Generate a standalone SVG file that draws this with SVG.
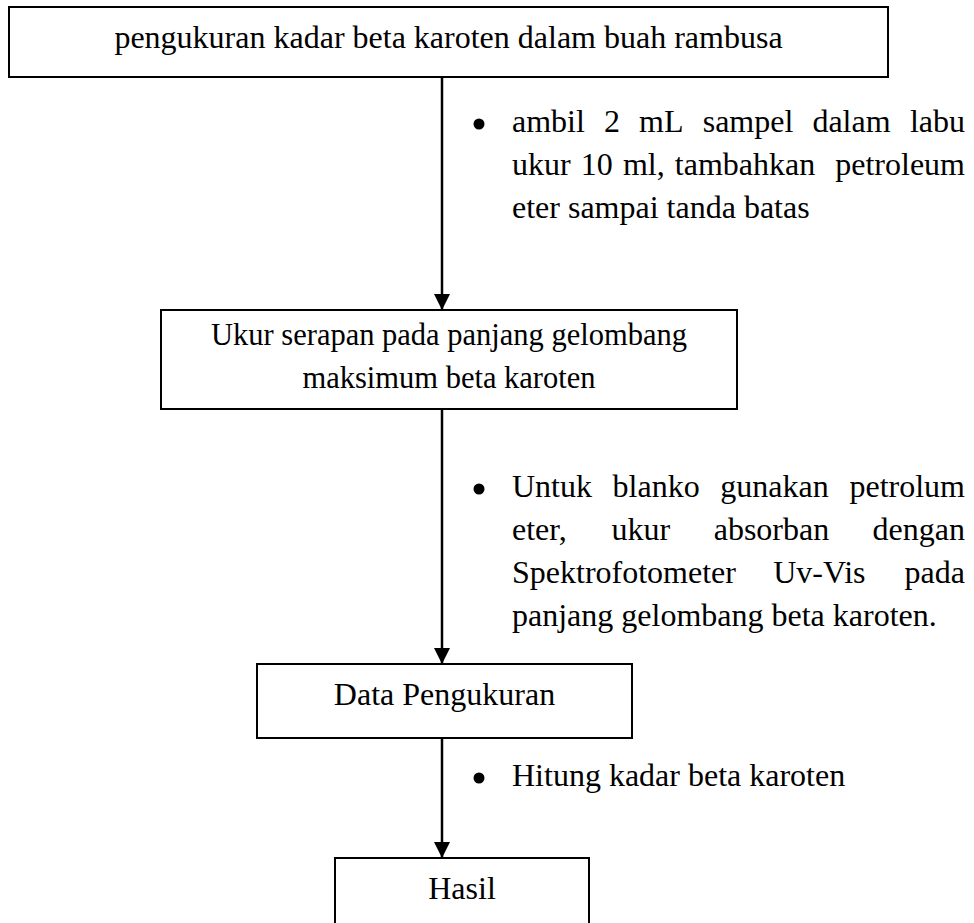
<svg xmlns="http://www.w3.org/2000/svg" width="974" height="923" viewBox="0 0 974 923">
<defs>
<style>
.box{fill:#fff;stroke:#000;stroke-width:2}
.t{font-family:"Liberation Serif","Times New Roman",serif;font-size:32px;fill:#000}
.s{font-size:30.5px}
.c{text-anchor:middle}
.e{text-anchor:end}
.ln{stroke:#000;stroke-width:2.5;fill:none}
</style>
<marker id="ah" markerUnits="userSpaceOnUse" markerWidth="16" markerHeight="18" refX="16" refY="8" orient="auto">
<path d="M0,0 L16,8 L0,16 Z" fill="#000"/>
</marker>
</defs>
<rect width="974" height="923" fill="#fff"/>
<g id="connectors">
<line class="ln" x1="442" y1="77" x2="442" y2="310" marker-end="url(#ah)"/>
<line class="ln" x1="442" y1="409" x2="442" y2="664" marker-end="url(#ah)"/>
<line class="ln" x1="442" y1="738" x2="442" y2="858" marker-end="url(#ah)"/>
</g>
<g id="node1">
<rect class="box" x="9" y="7" width="879" height="70"/>
<text class="t c" x="448.5" y="48">pengukuran kadar beta karoten dalam buah rambusa</text>
</g>
<g id="note1">
<circle cx="479" cy="124" r="5.5"/>
<text class="t" y="132"><tspan x="512">ambil</tspan><tspan x="604">2</tspan><tspan x="639">mL</tspan><tspan x="702.7">sampel</tspan><tspan x="812.4">dalam</tspan></text>
<text class="t e" x="965" y="132">labu</text>
<text class="t" y="175"><tspan x="512">ukur</tspan><tspan x="580.8">10</tspan><tspan x="622.9">ml,</tspan><tspan x="674.8">tambahkan</tspan></text>
<text class="t e" x="965" y="175">petroleum</text>
<text class="t" x="512" y="218">eter sampai tanda batas</text>
</g>
<g id="node2">
<rect class="box" x="161" y="310" width="576" height="99"/>
<text class="t s c" x="449" y="345">Ukur serapan pada panjang gelombang</text>
<text class="t s c" x="449" y="388">maksimum beta karoten</text>
</g>
<g id="note2">
<circle cx="479" cy="489" r="5.5"/>
<text class="t" y="497"><tspan x="512">Untuk</tspan><tspan x="612.6">blanko</tspan><tspan x="720.3">gunakan</tspan></text>
<text class="t e" x="965" y="497">petrolum</text>
<text class="t" y="540"><tspan x="512">eter,</tspan><tspan x="611.5">ukur</tspan><tspan x="713.7">absorban</tspan></text>
<text class="t e" x="965" y="540">dengan</text>
<text class="t" y="583"><tspan x="512">Spektrofotometer</tspan><tspan x="773.2">Uv-Vis</tspan></text>
<text class="t e" x="965" y="583">pada</text>
<text class="t" x="512" y="626">panjang gelombang beta karoten.</text>
</g>
<g id="node3">
<rect class="box" x="257" y="664" width="375" height="74"/>
<text class="t c" x="444.5" y="705">Data Pengukuran</text>
</g>
<g id="note3">
<circle cx="479" cy="778" r="5.5"/>
<text class="t" x="512" y="786">Hitung kadar beta karoten</text>
</g>
<g id="node4">
<rect class="box" x="335" y="858" width="254" height="80"/>
<text class="t c" x="462" y="899">Hasil</text>
</g>
</svg>
